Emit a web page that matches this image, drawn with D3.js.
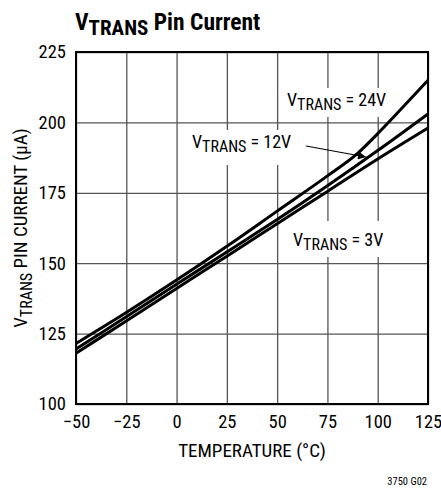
<!DOCTYPE html>
<html>
<head>
<meta charset="utf-8">
<script src="https://cdn.jsdelivr.net/npm/d3@7"></script>
<style>
  body { margin: 0; background: #fff; }
  text { font-family: "Liberation Sans Narrow", "Roboto Condensed", Roboto, sans-serif; fill: #000; }
</style>
</head>
<body>
<script>
// data
var temps = [-50, -25, 0, 25, 50, 75, 100, 125];
var cur3V = [118, 129.5, 141, 152.5, 164, 175.5, 187, 198];
var cur12V = [119.5, 131, 142.5, 154, 165.5, 177.5, 190, 203];
var temps24 = [-50, -25, 0, 25, 50, 75, 90, 100, 110, 125];
var cur24V = [121.5, 132.5, 144, 156, 168.5, 181, 189, 196, 203.5, 215];

var xTicks = [-50, -25, 0, 25, 50, 75, 100, 125];
var yTicks = [100, 125, 150, 175, 200, 225];

// svg size
var w_svg = 441;
var h_svg = 490;

// plot box
var pLeft = 76, pRight = 428, pTop = 52, pBottom = 404;

var svg = d3.select("body").append("svg")
  .attr("width", w_svg)
  .attr("height", h_svg);

var xScale = d3.scaleLinear().domain([-50, 125]).range([pLeft, pRight]);
var yScale = d3.scaleLinear().domain([100, 225]).range([pBottom, pTop]);

// grid
var xGrid = d3.axisBottom(xScale).tickValues(xTicks).tickSize(-(pBottom - pTop)).tickFormat("");
svg.append("g").attr("class", "grid").attr("transform", "translate(0," + pBottom + ")").call(xGrid);
var yGrid = d3.axisLeft(yScale).tickValues(yTicks).tickSize(-(pRight - pLeft)).tickFormat("");
svg.append("g").attr("class", "grid").attr("transform", "translate(" + pLeft + ",0)").call(yGrid);
svg.selectAll(".grid .domain").remove();
svg.selectAll(".grid line").attr("stroke", "#555").attr("stroke-width", 1.3);

// frame
svg.append("rect")
  .attr("x", pLeft).attr("y", pTop)
  .attr("width", pRight - pLeft).attr("height", pBottom - pTop)
  .attr("fill", "none").attr("stroke", "#000").attr("stroke-width", 2);

// tick labels
var x_axis = d3.axisBottom(xScale).tickValues(xTicks).tickSize(0).tickPadding(11);
var gx = svg.append("g").attr("transform", "translate(0," + pBottom + ")").call(x_axis);
var y_axis = d3.axisLeft(yScale).tickValues(yTicks).tickSize(0).tickPadding(10);
var gy = svg.append("g").attr("transform", "translate(" + pLeft + ",0)").call(y_axis);
[gx, gy].forEach(function(g) {
  g.select(".domain").remove();
  g.selectAll("text").attr("font-size", 18.5).attr("font-family", null).attr("fill", "#000");
});
gx.selectAll("text").attr("dy", "0.71em");

// label boxes (white behind text)
function box(x, y, w, h) {
  svg.append("rect").attr("x", x).attr("y", y).attr("width", w).attr("height", h).attr("fill", "#fff");
}
box(283, 88, 110, 29);
box(186, 130, 122, 35);
box(288, 221, 104, 36);

// curves
var line = d3.line()
  .x(function(d) { return xScale(d[0]); })
  .y(function(d) { return yScale(d[1]); })
  .curve(d3.curveMonotoneX);

var series = [
  d3.zip(temps, cur3V),
  d3.zip(temps, cur12V),
  d3.zip(temps24, cur24V)
];
svg.selectAll("path.curve")
  .data(series).enter().append("path")
  .attr("class", "curve")
  .attr("d", line)
  .attr("fill", "none")
  .attr("stroke", "#000")
  .attr("stroke-width", 3);

// labels with subscript
function vlabel(x, y, rest, size) {
  var t = svg.append("text").attr("x", x).attr("y", y).attr("font-size", size);
  t.append("tspan").text("V");
  t.append("tspan").attr("dy", 4).attr("font-size", 16).text("TRANS");
  t.append("tspan").attr("dy", -4).text(rest);
  return t;
}
vlabel(287, 106, " = 24V", 18);
vlabel(192, 148, " = 12V", 18);
vlabel(293, 246, " = 3V", 18);

// arrow to 12V curve
svg.append("defs").append("marker")
  .attr("id", "arr").attr("viewBox", "0 0 10 10")
  .attr("refX", 10).attr("refY", 5)
  .attr("markerWidth", 14).attr("markerHeight", 8)
  .attr("markerUnits", "userSpaceOnUse")
  .attr("orient", "auto")
  .append("path").attr("d", "M0,0L10,5L0,10z").attr("fill", "#000");
svg.append("line")
  .attr("x1", 306).attr("y1", 146)
  .attr("x2", 366).attr("y2", 157)
  .attr("stroke", "#000").attr("stroke-width", 1.2)
  .attr("marker-end", "url(#arr)");

// title
var title = svg.append("text").attr("x", 75).attr("y", 30)
  .attr("font-size", 23.5).attr("font-weight", "bold");
title.append("tspan").text("V");
title.append("tspan").attr("dy", 5).attr("font-size", 21).text("TRANS");
title.append("tspan").attr("dy", -5).text(" Pin Current");

// axis titles
svg.append("text")
  .attr("x", (pLeft + pRight) / 2).attr("y", 457)
  .attr("text-anchor", "middle").attr("font-size", 19)
  .text("TEMPERATURE (°C)");

var yt = svg.append("text")
  .attr("transform", "translate(27," + ((pTop + pBottom) / 2) + ") rotate(-90)")
  .attr("text-anchor", "middle").attr("font-size", 19);
yt.append("tspan").text("V");
yt.append("tspan").attr("dy", 4.5).attr("font-size", 16).text("TRANS");
yt.append("tspan").attr("dy", -4.5).text(" PIN CURRENT (μA)");

svg.append("text")
  .attr("x", 427).attr("y", 485)
  .attr("text-anchor", "end").attr("font-size", 10.5)
  .text("3750 G02");
</script>
</body>
</html>
